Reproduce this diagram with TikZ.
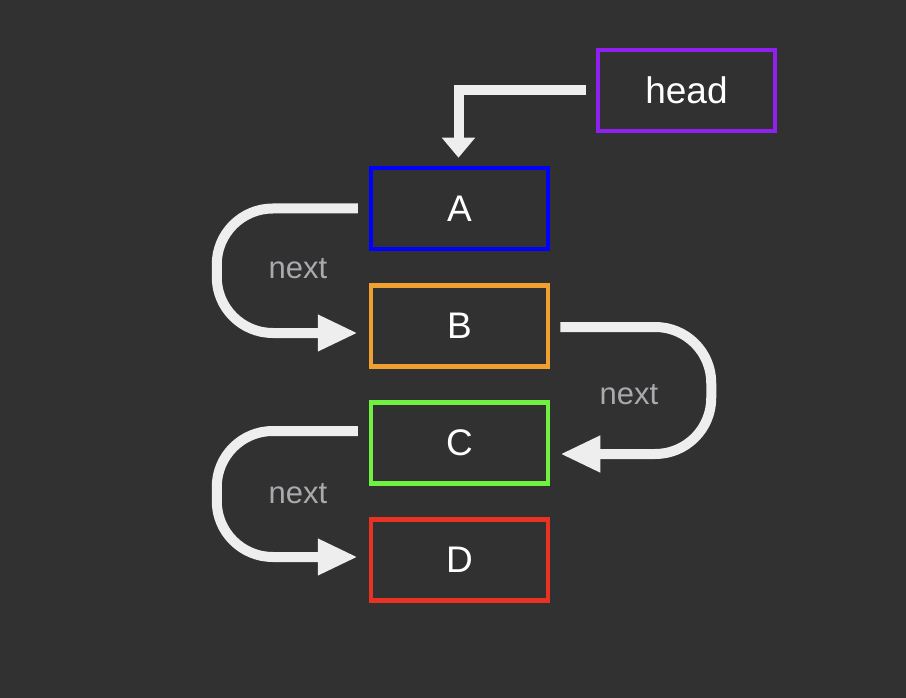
\documentclass[tikz,border=0pt]{standalone}
\usepackage{fontspec}
\setmainfont{Liberation Sans}
\usetikzlibrary{arrows.meta}
\definecolor{bg}{HTML}{313131}
\definecolor{arr}{HTML}{EEEEEE}
\definecolor{lbl}{HTML}{A9A9AE}
\definecolor{cA}{HTML}{0000FF}
\definecolor{cB}{HTML}{F0A030}
\definecolor{cC}{HTML}{70F040}
\definecolor{cD}{HTML}{E83222}
\definecolor{cH}{HTML}{9020F0}
\tikzset{
  listbox/.style={draw, line width=4.5pt, minimum width=177pt, minimum height=81pt, inner sep=0pt, text=white, font=\fontsize{37}{40}\selectfont},
  headarrow/.style={draw=arr, line width=10pt, -{Triangle[length=20pt,width=32pt]}},
  nextarrow/.style={draw=arr, line width=10pt, rounded corners=56pt, -{Triangle[length=40pt,width=34pt]}},
  nextlabel/.style={text=lbl, font=\fontsize{31}{34}\selectfont, inner sep=0pt}
}
\begin{document}
\begin{tikzpicture}[x=1pt,y=-1pt]
\fill[bg] (0,0) rectangle (906,698);
\useasboundingbox (0,0) rectangle (906,698);
\node[listbox, draw=cH] (head) at (686.5,90.5) {head};
\node[listbox, draw=cA] (A) at (459.5,208.5) {A};
\node[listbox, draw=cB] (B) at (459.5,326) {B};
\node[listbox, draw=cC] (C) at (459.5,443) {C};
\node[listbox, draw=cD] (D) at (459.5,560) {D};
\draw[headarrow, sharp corners] ([xshift=-10pt]head.west) -| ([xshift=-1pt,yshift=8pt]A.north);
\draw[nextarrow] ([xshift=-11pt]A.west) -- ++(-141,0) |- ([xshift=-11pt,yshift=-7pt]B.west);
\draw[nextarrow] ([xshift=10pt,yshift=-1pt]B.east) -- ++(151,0) |- ([xshift=10pt,yshift=-11pt]C.east);
\draw[nextarrow] ([xshift=-11pt,yshift=12pt]C.west) -- ++(-141,0) |- ([xshift=-11pt,yshift=3pt]D.west);
\node[nextlabel] (l1) at (298,269) {next};
\node[nextlabel] (l2) at (629,395) {next};
\node[nextlabel] (l3) at (298,494) {next};
\end{tikzpicture}
\end{document}
